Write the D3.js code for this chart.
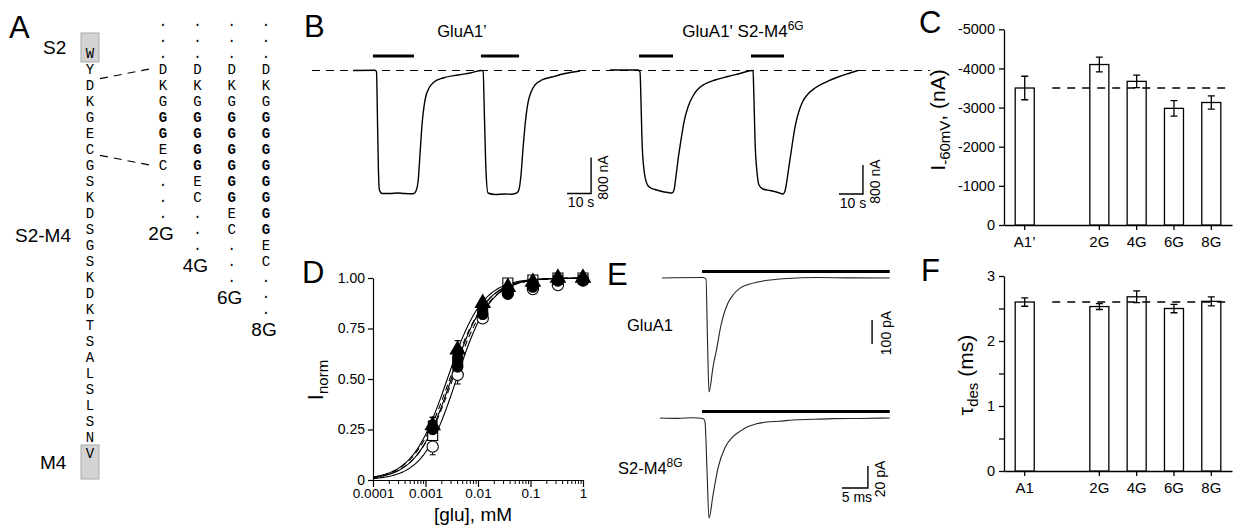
<!DOCTYPE html>
<html><head><meta charset="utf-8">
<script src="https://cdn.jsdelivr.net/npm/d3@7"></script>
<style>
body{margin:0;background:#fff}
svg{display:block}
text{font-family:"Liberation Sans",Arial,sans-serif;fill:#000}
.mono{font-family:"Liberation Mono","DejaVu Sans Mono",monospace;fill:#000}
</style>
</head><body>
<svg id="c" width="1236" height="527"></svg>
<script>
// ---------------- DATA ----------------
// Panel A
const seqMain = "WYDKGECGSKDSGSKDKTSALSLSNV";
const seqVariants = ["...DKGggEC...", "...DKGggggEC...", "...DKGggggggEC...", "...DKGggggggggEC..."]; // lowercase g = bold G
const variantLabels = ["2G", "4G", "6G", "8G"];

// Panel B (time s, current nA)
const b1Time = [0,9.2,9.8,10.2,10.6,11.0,12.1,15.4,18.75,21.25,23.75,25.4,26.25,27.1,27.9,28.75,30.0,31.7,33.75,37.5,43.75,48.75,53.75,54.2,54.8,55.4,56.25,59.2,63.3,66.25,68.3,69.2,70.0,70.8,71.7,72.9,74.2,75.8,78.75,82.9,88.3,94.6];
const b1Current = [-11,-7,-44,-1111,-2222,-2667,-2744,-2744,-2733,-2744,-2751,-2744,-2689,-2489,-1889,-1222,-667,-400,-267,-178,-111,-67,-11,-22,-1111,-2222,-2733,-2767,-2756,-2760,-2733,-2644,-2333,-1778,-1222,-733,-489,-333,-222,-156,-78,-22];
const b1Stim = [[8.3,25.4],[53.3,69.2]];
const b2Time = [0,11.67,12.5,12.9,13.33,14.17,15.42,16.67,18.75,21.67,24.17,25.83,26.67,27.5,28.33,29.58,30.83,32.5,34.58,36.67,39.58,43.75,49.17,54.17,59.17,59.58,60.0,60.42,61.25,62.08,63.75,66.67,70.0,72.08,72.92,73.75,74.58,75.83,77.08,78.75,80.42,82.5,85.42,89.58,95.0,100.0,103.3];
const b2Current = [0,0,-55,-828,-1931,-2759,-3145,-3242,-3297,-3352,-3380,-3394,-3311,-2924,-2483,-1931,-1435,-1021,-717,-524,-386,-276,-179,-97,-14,-28,-828,-1931,-2814,-3173,-3283,-3325,-3380,-3421,-3338,-3035,-2649,-2097,-1573,-1131,-855,-662,-497,-345,-193,-83,-14];
const b2Stim = [[12.1,26.25],[58.75,72.5]];
const bTitles = ["GluA1’", "GluA1' S2-M4"];

// Panel C
const catsC = ["A1’", "2G", "4G", "6G", "8G"];
const valsC = [-3500, -4100, -3670, -2980, -3130];
const errC = [300, 190, 160, 200, 170];
const refC = -3500;
const ticksC = [0, -1000, -2000, -3000, -4000, -5000];

// Panel D
const concD = [0.00137, 0.0041, 0.0123, 0.037, 0.111, 0.333, 1];
const dOpenCircle = [0.165, 0.52, 0.80, 0.925, 0.945, 0.965, 0.99];
const dOpenSquare = [0.22, 0.59, 0.84, 0.975, 0.99, 1.0, 1.0];
const dFilledCircle = [0.25, 0.56, 0.82, 0.92, 0.955, 0.985, 0.985];
const dFilledTriangle = [0.27, 0.645, 0.875, 0.955, 0.98, 1.0, 1.0];
const dFilledSquare = [0.27, 0.60, 0.85, 0.94, 0.97, 0.99, 0.99];
const dErr = [0.04, 0.045, 0.02, 0.012, 0.01, 0.008, 0.006];
const dEC50 = [0.0039, 0.0031, 0.0033, 0.0026, 0.0029];
const dHill = [1.35, 1.3, 1.25, 1.3, 1.25];
const dDashed = [false, false, true, false, true];
const ticksDx = [0.0001, 0.001, 0.01, 0.1, 1];
const tickLabelsDx = ["0.0001", "0.001", "0.01", "0.1", "1"];
const ticksDy = [0, 0.25, 0.5, 0.75, 1];
const tickLabelsDy = ["0", "0.25", "0.50", "0.75", "1.00"];

// Panel E (time ms, current pA)
const e1Time = [0,7.88,8.46,8.75,9.04,9.81,10.58,11.15,11.73,12.69,13.65,15.0,16.9,19.4,24.0,29.8,36,43.8];
const e1Current = [0,2,-4,-258,-475,-371,-288,-217,-163,-104,-71,-42,-25,-12.5,-2,2,0.5,0];
const e2Time = [-0.4,3,6,7.88,8.27,8.65,9.04,9.81,10.77,12.1,13.65,15.2,16.35,18.0,20.2,22.5,25.2,29,33,38,43.8];
const e2Current = [0,-0.3,0.2,-0.5,-3.6,-47,-91,-70,-45.5,-27,-17,-11.5,-8.2,-5.5,-3.6,-3.0,-1.8,-1.2,-0.6,-0.4,0];
const eStim = [7.7, 43.8];
const eLabels = ["GluA1", "S2-M4"];

// Panel F
const catsF = ["A1", "2G", "4G", "6G", "8G"];
const valsF = [2.60, 2.53, 2.68, 2.50, 2.61];
const errF = [0.065, 0.045, 0.09, 0.065, 0.07];
const refF = 2.6;
const ticksF = [0, 0.5, 1, 1.5, 2, 2.5, 3];

// ---------------- DRAW ----------------
const svg = d3.select("#c");
svg.append("rect").attr("width",1236).attr("height",527).attr("fill","#fff");

function panelLetter(t, x, y){ svg.append("text").attr("x",x).attr("y",y).attr("font-size",31).text(t); }
panelLetter("A",9,38); panelLetter("B",304,37); panelLetter("C",919,33);
panelLetter("D",302,283); panelLetter("E",607,285); panelLetter("F",921,281);

// ---- Panel A ----
const gA = svg.append("g");
const rowY = d3.scaleLinear().domain([0,1]).range([53,69]);
const colX = d3.scalePoint().domain(variantLabels).range([163,266]);
const mainX = 90;
gA.append("rect").attr("x",81).attr("y",rowY(0)-20).attr("width",18).attr("height",29)
  .attr("fill","#d3d3d3").attr("stroke","#aaa").attr("stroke-width",1);
gA.append("rect").attr("x",81).attr("y",rowY(seqMain.length-1)-8).attr("width",18).attr("height",34)
  .attr("fill","#d3d3d3").attr("stroke","#aaa").attr("stroke-width",1);
gA.selectAll("text.m").data(seqMain.split("")).join("text").attr("class","mono")
  .attr("x",mainX).attr("y",(d,i)=>rowY(i)).attr("dy","0.36em").attr("text-anchor","middle")
  .attr("font-size",14).text(d=>d);
seqVariants.forEach((s,k)=>{
  const lab = variantLabels[k];
  gA.selectAll(null).data(s.split("")).join("text").attr("class","mono")
    .attr("x",colX(lab)).attr("y",(d,i)=>rowY(i-2)).attr("dy","0.36em").attr("text-anchor","middle")
    .attr("font-size",14).attr("font-weight",d=>d==="g"?"bold":"normal").text(d=>d.toUpperCase());
  gA.append("text").attr("x",colX(lab)-2).attr("y",rowY(s.length-2)+4).attr("dy","0.36em")
    .attr("text-anchor","middle").attr("font-size",19).text(lab);
});
gA.append("text").attr("x",43).attr("y",rowY(0)+1).attr("font-size",19).text("S2");
gA.append("text").attr("x",15).attr("y",rowY(11)+13).attr("font-size",19).text("S2-M4");
gA.append("text").attr("x",40).attr("y",rowY(25)+16).attr("font-size",19).text("M4");
gA.append("line").attr("x1",mainX+10).attr("y1",rowY(1.6)).attr("x2",colX("2G")-9).attr("y2",rowY(0.95))
  .attr("stroke","#000").attr("stroke-width",1.1).attr("stroke-dasharray","8,6");
gA.append("line").attr("x1",mainX+10).attr("y1",rowY(6.4)).attr("x2",colX("2G")-9).attr("y2",rowY(7.05))
  .attr("stroke","#000").attr("stroke-width",1.1).attr("stroke-dasharray","8,6");

// ---- Panel B ----
const gB = svg.append("g");
const xB1 = d3.scaleLinear().domain([0,100]).range([353,593]);
const yB1 = d3.scaleLinear().domain([0,-800]).range([70,106]);
const xB2 = d3.scaleLinear().domain([0,100]).range([610,850]);
const yB2 = d3.scaleLinear().domain([0,-800]).range([70,99]);
gB.append("line").attr("x1",312).attr("x2",930).attr("y1",yB1(0)+0.5).attr("y2",yB1(0)+0.5)
  .attr("stroke","#000").attr("stroke-width",1.2).attr("stroke-dasharray","8,6");
function drawTrace(g, T, I, xs, ys, w, col, curve){
  const line = d3.line().x((d,i)=>xs(T[i])).y((d,i)=>ys(I[i])).curve(curve||d3.curveMonotoneX);
  g.append("path").attr("d",line(T)).attr("fill","none").attr("stroke",col||"#000").attr("stroke-width",w||1.3);
}
drawTrace(gB, b1Time, b1Current, xB1, yB1, 1.4);
drawTrace(gB, b2Time, b2Current, xB2, yB2, 1.4);
function stimBars(g, arr, xs, y){
  arr.forEach(s=>g.append("line").attr("x1",xs(s[0])).attr("x2",xs(s[1])).attr("y1",y).attr("y2",y)
    .attr("stroke","#000").attr("stroke-width",3));
}
stimBars(gB, b1Stim, xB1, yB1(0)-14);
stimBars(gB, b2Stim, xB2, yB2(0)-14);
function scaleBar(g, xs, ys, t0, dt, i0, di, xlab, ylab){
  const x1 = xs(t0), x2 = xs(t0+dt), y1 = ys(i0), y2 = ys(i0+di);
  g.append("path").attr("d",`M${x1},${y1}H${x2}V${y2}`).attr("fill","none").attr("stroke","#000").attr("stroke-width",1.4);
  if(xlab) g.append("text").attr("x",(x1+x2)/2+2).attr("y",y1+14).attr("text-anchor","middle").attr("font-size",14).text(xlab);
  if(ylab) g.append("text").attr("transform",`translate(${x2+17},${(y1+y2)/2+2}) rotate(-90)`).attr("text-anchor","middle").attr("font-size",14).text(ylab);
}
scaleBar(gB, xB1, yB1, 89.2, 10, -2744, 800, "10 s", "800 nA");
scaleBar(gB, xB2, yB2, 95.4, 10, -3421, 800, "10 s", "800 nA");
gB.append("text").attr("x",462).attr("y",37).attr("text-anchor","middle").attr("font-size",16.5).text(bTitles[0]);
const t2 = gB.append("text").attr("x",743).attr("y",37).attr("text-anchor","middle").attr("font-size",17);
t2.append("tspan").text(bTitles[1]);
t2.append("tspan").attr("font-size",12).attr("dy",-7).text(variantLabels[2]);

// ---- Bar panels (C, F) ----
function barPanel(cats, vals, errs, ref, yDomain, yRange, ticks, fmt, labelY, labelFn){
  const g = svg.append("g");
  const slots = [cats[0], "__gap", ...cats.slice(1)];
  const x = d3.scaleBand().domain(slots).range([1004,1232]).paddingInner(0.49).paddingOuter(0.3);
  const y = d3.scaleLinear().domain(yDomain).range(yRange);
  g.append("g").attr("transform","translate(1004,0)")
    .call(d3.axisLeft(y).tickValues(ticks).tickFormat(fmt).tickSize(5).tickSizeOuter(0))
    .call(a=>{a.select(".domain").attr("stroke-width",1.3);a.selectAll("line").attr("stroke-width",1.3);
      a.selectAll("text").attr("font-size",14.5).attr("font-family","Liberation Sans, Arial").attr("dx",-1);});
  g.append("g").attr("transform",`translate(0,${y(0)})`)
    .call(d3.axisBottom(x).tickValues(cats).tickSize(5).tickSizeOuter(0))
    .call(a=>{a.select(".domain").attr("stroke-width",1.3);a.selectAll("line").attr("stroke-width",1.3);
      a.selectAll("text").attr("font-size",15).attr("font-family","Liberation Sans, Arial").attr("dy",labelY);});
  g.selectAll("rect.bar").data(cats).join("rect")
    .attr("x",d=>x(d)).attr("width",x.bandwidth())
    .attr("y",(d,i)=>Math.min(y(vals[i]),y(0))).attr("height",(d,i)=>Math.abs(y(0)-y(vals[i])))
    .attr("fill","#fff").attr("stroke","#000").attr("stroke-width",1.3);
  cats.forEach((c,i)=>{
    const cx = x(c)+x.bandwidth()/2, ya = y(vals[i]-errs[i]), yb = y(vals[i]+errs[i]);
    g.append("path").attr("d",`M${cx},${ya}V${yb}M${cx-3.5},${ya}H${cx+3.5}M${cx-3.5},${yb}H${cx+3.5}`)
      .attr("stroke","#000").attr("stroke-width",1.3).attr("fill","none");
  });
  g.append("line").attr("x1",x(cats[0])+x.bandwidth()+18).attr("x2",1226).attr("y1",y(ref)).attr("y2",y(ref))
    .attr("stroke","#000").attr("stroke-width",1.3).attr("stroke-dasharray","8,7");
  labelFn(g);
}
barPanel(catsC, valsC, errC, refC, [0,-5000], [225,29.3], ticksC, d=>String(d), "0.9em", g=>{
  const t = g.append("text").attr("transform","translate(945,120) rotate(-90)").attr("text-anchor","middle").attr("font-size",21);
  t.append("tspan").text("I");
  t.append("tspan").attr("font-size",15).attr("dy",5).text("-60mV");
  t.append("tspan").attr("dy",-5).text(", (nA)");
});
barPanel(catsF, valsF, errF, refF, [0,3], [471,276], ticksF, d=>Number.isInteger(d)?String(d):"", "0.95em", g=>{
  const t = g.append("text").attr("transform","translate(973,375) rotate(-90)").attr("text-anchor","middle").attr("font-size",21);
  t.append("tspan").text("τ");
  t.append("tspan").attr("font-size",15).attr("dy",5).text("des");
  t.append("tspan").attr("dy",-5).text(" (ms)");
});

// ---- Panel D ----
const gD = svg.append("g");
const xD = d3.scaleLog().domain([1e-4,1]).range([373,583]);
const yD = d3.scaleLinear().domain([0,1]).range([480,278]);
const minor = [];
for(let e=-4;e<0;e++) for(let m=2;m<=9;m++) minor.push(m*Math.pow(10,e));
gD.append("g").attr("transform",`translate(0,${yD(0)})`)
  .call(d3.axisBottom(xD).tickValues(minor).tickSize(4).tickFormat("").tickSizeOuter(0))
  .call(a=>{a.select(".domain").attr("stroke-width",1.2);a.selectAll("line").attr("stroke-width",1);});
gD.append("g").attr("transform",`translate(0,${yD(0)})`)
  .call(d3.axisBottom(xD).tickValues(ticksDx).tickSize(7).tickFormat((d,i)=>tickLabelsDx[i]).tickSizeOuter(0))
  .call(a=>{a.select(".domain").remove();a.selectAll("line").attr("stroke-width",1.2);
    a.selectAll("text").attr("font-size",13.5).attr("font-family","Liberation Sans, Arial").attr("dy","0.6em");});
gD.append("g").attr("transform",`translate(${xD(1e-4)},0)`)
  .call(d3.axisLeft(yD).tickValues(ticksDy).tickSize(5).tickFormat((d,i)=>tickLabelsDy[i]).tickSizeOuter(0))
  .call(a=>{a.select(".domain").attr("stroke-width",1.2);a.selectAll("line").attr("stroke-width",1.2);
    a.selectAll("text").attr("font-size",14).attr("font-family","Liberation Sans, Arial");});
gD.append("text").attr("x",473).attr("y",521).attr("text-anchor","middle").attr("font-size",19).text("[glu], mM");
const tD = gD.append("text").attr("transform","translate(323,380) rotate(-90)").attr("text-anchor","middle").attr("font-size",22);
tD.append("tspan").text("I");
tD.append("tspan").attr("font-size",15).attr("dy",5).text("norm");

const seriesD = [dOpenCircle, dOpenSquare, dFilledCircle, dFilledTriangle, dFilledSquare];
const symTypes = [d3.symbolCircle, d3.symbolSquare, d3.symbolCircle, d3.symbolTriangle, d3.symbolSquare];
const symFill = ["#fff","#fff","#000","#000","#000"];
const symSize = [100, 100, 85, 95, 75];
const cGrid = d3.range(0,101).map(i=>Math.pow(10,-4+4*i/100));
seriesD.forEach((s,k)=>{
  const line = d3.line().x(c=>xD(c)).y(c=>yD(1/(1+Math.pow(dEC50[k]/c, dHill[k]))));
  gD.append("path").attr("d",line(cGrid)).attr("fill","none").attr("stroke","#000").attr("stroke-width",1.1)
    .attr("stroke-dasharray",dDashed[k]?"6,4":null);
});
seriesD.forEach((s,k)=>{
  s.forEach((v,i)=>{
    const cx = xD(concD[i]);
    gD.append("path").attr("d",`M${cx},${yD(v-dErr[i])}V${yD(v+dErr[i])}M${cx-3},${yD(v+dErr[i])}H${cx+3}M${cx-3},${yD(v-dErr[i])}H${cx+3}`)
      .attr("stroke","#000").attr("stroke-width",1.1);
  });
});
seriesD.forEach((s,k)=>{
  gD.selectAll(null).data(s).join("path")
    .attr("transform",(v,i)=>`translate(${xD(concD[i])},${yD(v)})`)
    .attr("d",d3.symbol().type(symTypes[k]).size(symSize[k]))
    .attr("fill",symFill[k]).attr("stroke","#000").attr("stroke-width",1.1);
});

// ---- Panel E ----
const gE = svg.append("g");
const xE = d3.scaleLinear().domain([0,50]).range([662,922]);
const yE1 = d3.scaleLinear().domain([0,-100]).range([278,302]);
const yE2 = d3.scaleLinear().domain([0,-20]).range([418,440]);
drawTrace(gE, e1Time, e1Current, xE, yE1, 1.1, "#222");
drawTrace(gE, e2Time, e2Current, xE, yE2, 1.1, "#222");
[yE1, yE2].forEach(ys=>gE.append("line").attr("x1",xE(eStim[0])).attr("x2",xE(eStim[1]))
  .attr("y1",ys(0)-6.5).attr("y2",ys(0)-6.5).attr("stroke","#000").attr("stroke-width",3));
gE.append("line").attr("x1",xE(40.4)).attr("x2",xE(40.4)).attr("y1",yE1(-175)).attr("y2",yE1(-275))
  .attr("stroke","#000").attr("stroke-width",1.4);
gE.append("text").attr("transform",`translate(${xE(40.4)+19},${(yE1(-175)+yE1(-275))/2+1}) rotate(-90)`)
  .attr("text-anchor","middle").attr("font-size",14).text("100 pA");
scaleBar(gE, xE, yE2, 34.6, 5, -63.6, 20, "5 ms", "20 pA");
gE.append("text").attr("x",627).attr("y",331).attr("font-size",16.5).text(eLabels[0]);
const tE = gE.append("text").attr("x",618).attr("y",474).attr("font-size",16.5);
tE.append("tspan").text(eLabels[1]);
tE.append("tspan").attr("font-size",12).attr("dy",-7).text(variantLabels[3]);
</script>
</body></html>
